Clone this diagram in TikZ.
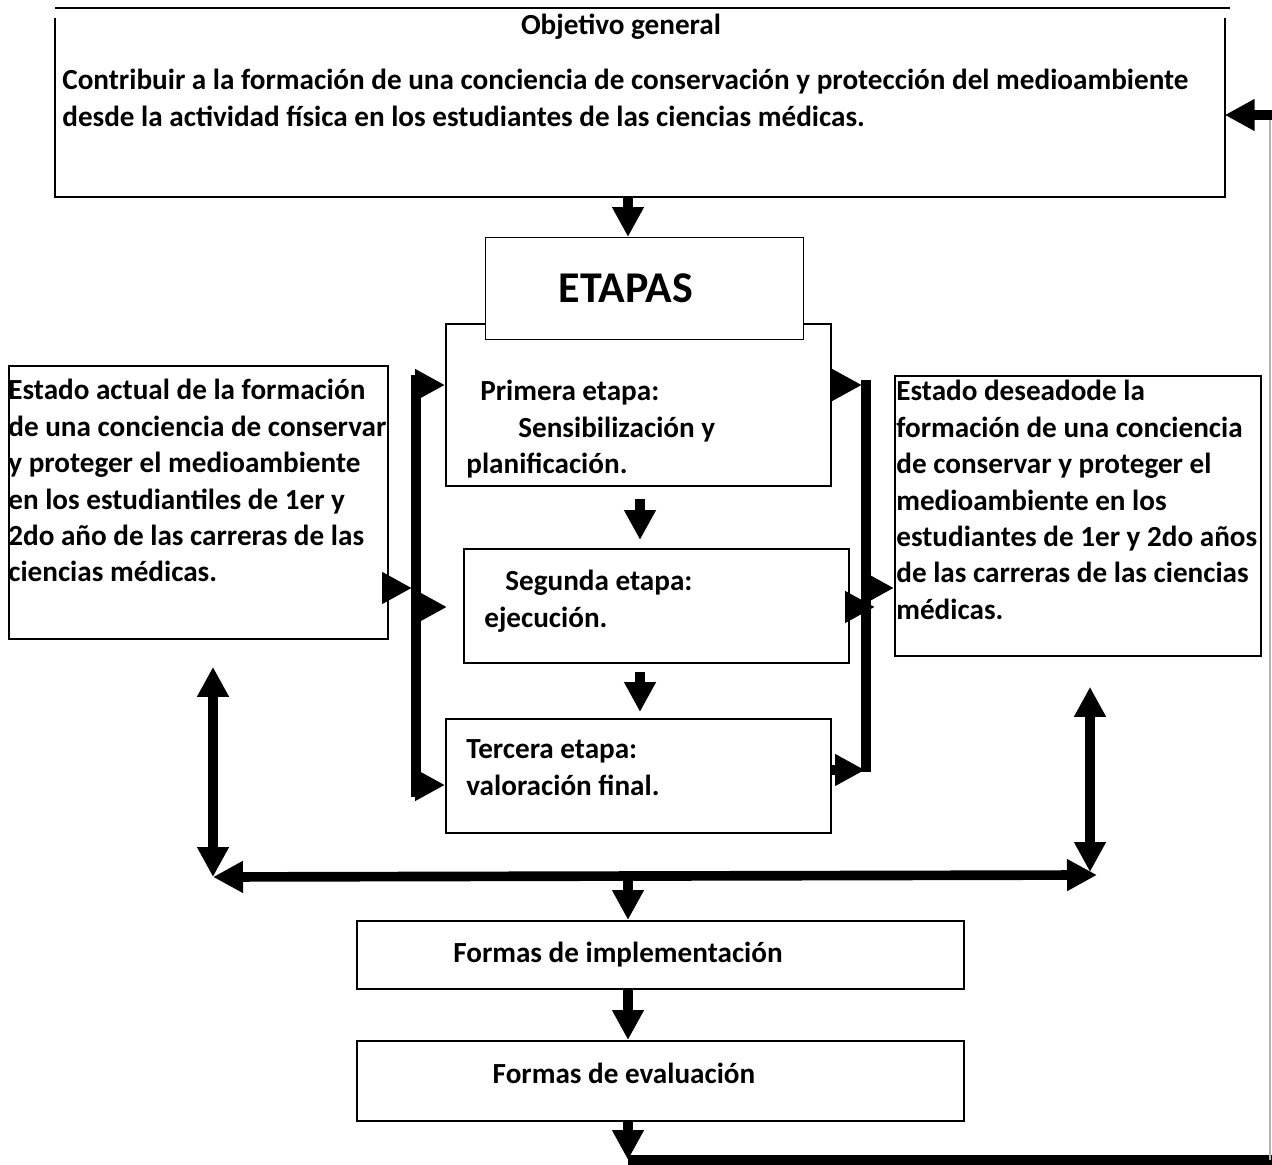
\documentclass[tikz,border=0pt]{standalone}
\usepackage{fontspec}
\setmainfont{Carlito}
\usetikzlibrary{arrows.meta}

\begin{document}
\begin{tikzpicture}[x=0.02cm, y=-0.02cm,
  box/.style={draw, line width=1.1pt, inner sep=0pt, anchor=north west},
  txt/.style={anchor=base west, inner sep=0pt, align=flush left, text width=9cm, font=\bfseries\fontsize{16.6}{20.7}\selectfont},
  ctr/.style={inner sep=0pt, font=\bfseries\fontsize{16.6}{20.7}\selectfont},
  fat/.style={line width=5.5pt, -{Triangle[length=0.6cm,width=0.6cm]}},
  dbl/.style={line width=5.5pt, {Triangle[length=0.6cm,width=0.6cm]}-{Triangle[length=0.6cm,width=0.6cm]}},
  bar/.style={line width=6pt}]
  \useasboundingbox (0,0) rectangle (1272,1165);

  % objetivo
  \node[box, draw=none, minimum width=23.36cm, minimum height=3.54cm] (obj) at (55,18) {};
  \draw[line width=1.1pt] (obj.north west) -- (obj.south west) -- (obj.south east) -- (obj.north east);
  \draw[line width=1.1pt] ([yshift=0.2cm]obj.north west) -- ++(1175,0);
  \node[ctr, anchor=base] (objT) at (621,35) {Objetivo general};
  \node[txt, text width=24cm] (objB) at (62,90) {Contribuir a la formación de una conciencia de conservación y protección del medioambiente\\desde la actividad física en los estudiantes de las ciencias médicas.};

  % etapas
  \node[box, minimum width=7.7cm, minimum height=3.24cm] (primera) at (445,323) {};
  \node[box, line width=0.6pt, fill=white, minimum width=6.36cm, minimum height=2.04cm] (etapas) at (485,237) {};
  \node[inner sep=0pt, font=\bfseries\fontsize{25}{30}\selectfont] (etapasT) at (626,288) {ETAPAS};
  \node[box, minimum width=7.7cm, minimum height=2.28cm] (segunda) at (463,548) {};
  \node[box, minimum width=7.7cm, minimum height=2.28cm] (tercera) at (445,718) {};
  \node[txt] (primT) at (466,401) {\hspace*{0.28cm}Primera etapa:\\\hspace*{1.04cm}Sensibilización y\\planificación.};
  \node[txt] (segT) at (484,591) {\hspace*{0.42cm}Segunda etapa:\\ejecución.};
  \node[txt] (terT) at (466,759) {Tercera etapa:\\valoración final.};

  % estados
  \node[box, minimum width=7.58cm, minimum height=5.46cm] (lest) at (8,365) {};
  \node[box, minimum width=7.32cm, minimum height=5.6cm] (rest) at (894,375) {};
  \node[txt] (lestT) at (8,400) {Estado actual de la formación\\de una conciencia de conservar\\y proteger el medioambiente\\en los estudiantiles de 1er y\\2do año de las carreras de las\\ciencias médicas.};
  \node[txt] (restT) at (896,401) {Estado deseadode la\\formación de una conciencia\\de conservar y proteger el\\medioambiente en los\\estudiantes de 1er y 2do años\\de las carreras de las ciencias\\médicas.};

  % formas
  \node[box, minimum width=12.14cm, minimum height=1.36cm] (impl) at (356,920) {};
  \node[box, minimum width=12.14cm, minimum height=1.6cm] (eval) at (356,1040) {};
  \node[ctr] (implT) at (618,955) {Formas de implementación};
  \node[ctr] (evalT) at (624,1073) {Formas de evaluación};

  % flechas centrales
  \coordinate (ax) at (628,0);
  \coordinate (bx) at (640,0);
  \draw[fat] (obj.south -| ax) -- (etapas.north -| ax);
  \draw[fat, shorten <=0.24cm, shorten >=0.16cm] (primera.south -| bx) -- (segunda.north -| bx);
  \draw[fat, shorten <=0.16cm, shorten >=0.12cm] (segunda.south -| bx) -- (tercera.north -| bx);

  % barra izquierda
  \coordinate (lt) at (416,375);
  \coordinate (lb) at (416,797);
  \coordinate (l0) at (412,588);
  \coordinate (l1) at (413,385);
  \coordinate (l2) at (418,607);
  \coordinate (l3) at (416,785);
  \draw[bar] (lt) -- (lb);
  \draw[fat] (l0 -| lest.east) -- (l0);
  \draw[fat] (l1) -- (l1 -| primera.west);
  \draw[fat, shorten >=0.32cm] (l2) -- (l2 -| segunda.west);
  \draw[fat] (l3) -- (l3 -| tercera.west);

  % barra derecha
  \coordinate (rt) at (866,380);
  \coordinate (rb) at (866,772);
  \coordinate (r0) at (870,588);
  \coordinate (r1) at (862,385);
  \coordinate (r2) at (875,607);
  \coordinate (r3) at (865,770);
  \draw[bar] (rt) -- (rb);
  \draw[fat] (r1 -| primera.east) -- (r1);
  \draw[fat] (r2 -| segunda.east) -- (r2);
  \draw[fat] (r3 -| tercera.east) -- (r3);
  \draw[fat] (r0) -- (r0 -| rest.west);

  % abajo
  \coordinate (hl) at (213,877);
  \coordinate (hr) at (1097,875);
  \coordinate (vr) at (1090,872);
  \coordinate (hm) at (628,877);
  \draw[dbl] (hl) -- (hr);
  \draw[dbl, shorten <=0.54cm] (hl |- lest.south) -- (hl);
  \draw[dbl, shorten <=0.6cm] (vr |- rest.south) -- (vr);
  \draw[fat] (hm) -- (impl.north -| hm);
  \draw[fat] (impl.south -| hm) -- (eval.north -| hm);

  % retorno
  \coordinate (fb) at (628,1160);
  \coordinate (fc) at (1272,1160);
  \coordinate (fd) at (1272,115);
  \coordinate (gb) at (1270,1160);
  \coordinate (gt) at (1270,112);
  \draw[fat] (eval.south -| hm) -- (fb);
  \draw[line width=5.5pt] (fb) -- (fc);
  \draw[gray!60, line width=0.6pt] (gb) -- (gt);
  \draw[fat] (fd) -- (fd -| obj.east);
\end{tikzpicture}
\end{document}
